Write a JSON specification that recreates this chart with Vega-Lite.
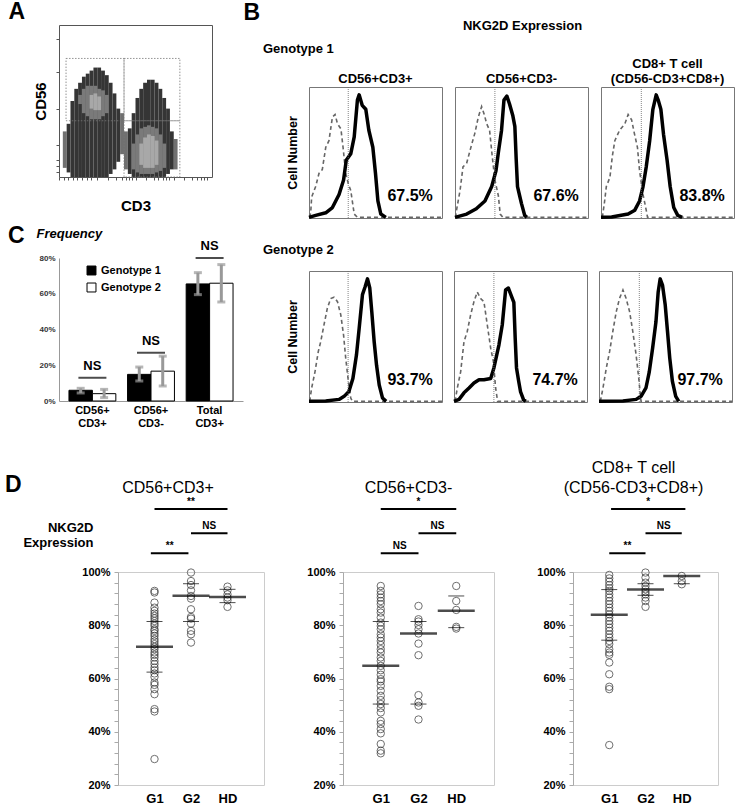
{
"$schema":"https://vega.github.io/schema/vega-lite/v6.json",
"background":"white",
"padding":{"left":5,"top":0,"right":0,"bottom":0},
"config":{"font":"Liberation Sans","view":{"stroke":null},
"title":{"font":"Liberation Sans","fontWeight":"bold","color":"black","anchor":"start"},
"axis":{"labelFont":"Liberation Sans","titleFont":"Liberation Sans","grid":false,"labelColor":"black","titleColor":"black","labelOverlap":false,"labelFlush":false,"labelBound":false},
"header":{"labelFont":"Liberation Sans","titleFont":"Liberation Sans","labelColor":"black"},
"legend":{"labelFont":"Liberation Sans"},
"text":{"font":"Liberation Sans"}},
"datasets":{
"flow":[
{"x":2.5,"x2":5,"y":6,"y2":30,"l":0},{"x":40,"x2":42.5,"y":15,"y2":42,"l":0},{"x":42.5,"x2":45,"y":5,"y2":30,"l":0},{"x":75,"x2":77.5,"y":5,"y2":25,"l":0},
{"x":5,"x2":7.5,"y":3,"y2":35,"l":1},{"x":7.5,"x2":10,"y":0,"y2":50,"l":1},{"x":10,"x2":12.5,"y":0,"y2":58,"l":1},{"x":12.5,"x2":15,"y":0,"y2":62,"l":1},{"x":15,"x2":17.5,"y":0,"y2":66,"l":1},{"x":17.5,"x2":20,"y":0,"y2":68,"l":1},{"x":20,"x2":22.5,"y":0,"y2":70,"l":1},{"x":22.5,"x2":25,"y":0,"y2":72,"l":1},{"x":25,"x2":27.5,"y":0,"y2":72,"l":1},{"x":27.5,"x2":30,"y":0,"y2":70,"l":1},{"x":30,"x2":32.5,"y":0,"y2":67,"l":1},{"x":32.5,"x2":35,"y":2,"y2":62,"l":1},{"x":35,"x2":37.5,"y":5,"y2":55,"l":1},{"x":37.5,"x2":40,"y":10,"y2":45,"l":1},
{"x":45,"x2":47.5,"y":2,"y2":32,"l":1},{"x":47.5,"x2":50,"y":0,"y2":42,"l":1},{"x":50,"x2":52.5,"y":0,"y2":52,"l":1},{"x":52.5,"x2":55,"y":0,"y2":58,"l":1},{"x":55,"x2":57.5,"y":0,"y2":62,"l":1},{"x":57.5,"x2":60,"y":0,"y2":64,"l":1},{"x":60,"x2":62.5,"y":0,"y2":64,"l":1},{"x":62.5,"x2":65,"y":0,"y2":62,"l":1},{"x":65,"x2":67.5,"y":0,"y2":58,"l":1},{"x":67.5,"x2":70,"y":0,"y2":52,"l":1},{"x":70,"x2":72.5,"y":2,"y2":45,"l":1},{"x":72.5,"x2":75,"y":5,"y2":30,"l":1},
{"x":12.5,"x2":15,"y":48,"y2":54,"l":2},{"x":15,"x2":17.5,"y":42,"y2":58,"l":2},{"x":17.5,"x2":20,"y":40,"y2":60,"l":2},{"x":20,"x2":22.5,"y":38,"y2":60,"l":2},{"x":22.5,"x2":25,"y":38,"y2":60,"l":2},{"x":25,"x2":27.5,"y":38,"y2":58,"l":2},{"x":27.5,"x2":30,"y":40,"y2":57,"l":2},{"x":30,"x2":32.5,"y":42,"y2":54,"l":2},
{"x":47.5,"x2":50,"y":5,"y2":22,"l":2},{"x":50,"x2":52.5,"y":3,"y2":28,"l":2},{"x":52.5,"x2":55,"y":2,"y2":32,"l":2},{"x":55,"x2":57.5,"y":2,"y2":33,"l":2},{"x":57.5,"x2":60,"y":2,"y2":34,"l":2},{"x":60,"x2":62.5,"y":2,"y2":33,"l":2},{"x":62.5,"x2":65,"y":3,"y2":32,"l":2},{"x":65,"x2":67.5,"y":4,"y2":28,"l":2},{"x":67.5,"x2":70,"y":6,"y2":22,"l":2},
{"x":20,"x2":22.5,"y":45,"y2":54,"l":3},{"x":22.5,"x2":25,"y":44,"y2":55,"l":3},{"x":25,"x2":27.5,"y":44,"y2":53,"l":3},
{"x":52.5,"x2":55,"y":8,"y2":22,"l":3},{"x":55,"x2":57.5,"y":6,"y2":26,"l":3},{"x":57.5,"x2":60,"y":6,"y2":28,"l":3},{"x":60,"x2":62.5,"y":6,"y2":27,"l":3},{"x":62.5,"x2":65,"y":8,"y2":24,"l":3}
],
"gates":[{"x":4.6,"x2":42.5,"y":37,"y2":78},{"x":42.5,"x2":79,"y":37,"y2":78},{"x":42.5,"x2":79,"y":0,"y2":37}],
"freq":[
{"cat":"CD56+ CD3+","g":"Genotype 1","v":6.0,"lo":4.5,"hi":7.1},
{"cat":"CD56+ CD3+","g":"Genotype 2","v":4.1,"lo":1.9,"hi":6.5},
{"cat":"CD56+ CD3-","g":"Genotype 1","v":14.9,"lo":11.2,"hi":19.0},
{"cat":"CD56+ CD3-","g":"Genotype 2","v":16.7,"lo":8.4,"hi":25.1},
{"cat":"Total CD3+","g":"Genotype 1","v":65.5,"lo":59.5,"hi":71.8},
{"cat":"Total CD3+","g":"Genotype 2","v":65.9,"lo":55.4,"hi":76.3}],
"fsig":[{"cat":"CD56+ CD3+","y":13,"t":"NS"},{"cat":"CD56+ CD3-","y":27,"t":"NS"},{"cat":"Total CD3+","y":80,"t":"NS"}],
"blank":[{"t":""}],
"hist":[
{"g":1,"p":1,"k":"iso","x":0.5,"y":0.5},{"g":1,"p":1,"k":"iso","x":1.3,"y":4.4},{"g":1,"p":1,"k":"iso","x":2,"y":16},{"g":1,"p":1,"k":"iso","x":5,"y":24},{"g":1,"p":1,"k":"iso","x":7.5,"y":34},{"g":1,"p":1,"k":"iso","x":10,"y":37},{"g":1,"p":1,"k":"iso","x":12.6,"y":54},{"g":1,"p":1,"k":"iso","x":15,"y":59},{"g":1,"p":1,"k":"iso","x":17.6,"y":77},{"g":1,"p":1,"k":"iso","x":19.6,"y":79},{"g":1,"p":1,"k":"iso","x":21.4,"y":72},{"g":1,"p":1,"k":"iso","x":24,"y":68},{"g":1,"p":1,"k":"iso","x":25.6,"y":54},{"g":1,"p":1,"k":"iso","x":27.6,"y":34},{"g":1,"p":1,"k":"iso","x":29.6,"y":26},{"g":1,"p":1,"k":"iso","x":31.4,"y":21},{"g":1,"p":1,"k":"iso","x":34,"y":3},{"g":1,"p":1,"k":"iso","x":36.4,"y":0.5},{"g":1,"p":1,"k":"iso","x":100,"y":0.5},
{"g":1,"p":1,"k":"nkg","x":0,"y":0.5},{"g":1,"p":1,"k":"nkg","x":5,"y":2},{"g":1,"p":1,"k":"nkg","x":12.6,"y":4},{"g":1,"p":1,"k":"nkg","x":17.6,"y":8},{"g":1,"p":1,"k":"nkg","x":22.6,"y":18},{"g":1,"p":1,"k":"nkg","x":26,"y":29},{"g":1,"p":1,"k":"nkg","x":28,"y":44},{"g":1,"p":1,"k":"nkg","x":31.4,"y":49},{"g":1,"p":1,"k":"nkg","x":34,"y":62},{"g":1,"p":1,"k":"nkg","x":36.4,"y":90},{"g":1,"p":1,"k":"nkg","x":37.7,"y":94},{"g":1,"p":1,"k":"nkg","x":40,"y":86},{"g":1,"p":1,"k":"nkg","x":42.7,"y":83},{"g":1,"p":1,"k":"nkg","x":45,"y":67},{"g":1,"p":1,"k":"nkg","x":48,"y":54},{"g":1,"p":1,"k":"nkg","x":50,"y":34},{"g":1,"p":1,"k":"nkg","x":51.8,"y":13},{"g":1,"p":1,"k":"nkg","x":54,"y":3},{"g":1,"p":1,"k":"nkg","x":57.8,"y":0.5},
{"g":1,"p":2,"k":"iso","x":0.5,"y":0.5},{"g":1,"p":2,"k":"iso","x":0.8,"y":4},{"g":1,"p":2,"k":"iso","x":3.8,"y":21},{"g":1,"p":2,"k":"iso","x":6,"y":39},{"g":1,"p":2,"k":"iso","x":8.8,"y":42},{"g":1,"p":2,"k":"iso","x":12.5,"y":56},{"g":1,"p":2,"k":"iso","x":15,"y":65},{"g":1,"p":2,"k":"iso","x":17.5,"y":77},{"g":1,"p":2,"k":"iso","x":20,"y":85},{"g":1,"p":2,"k":"iso","x":22,"y":79},{"g":1,"p":2,"k":"iso","x":23.8,"y":72},{"g":1,"p":2,"k":"iso","x":26,"y":67},{"g":1,"p":2,"k":"iso","x":28,"y":47},{"g":1,"p":2,"k":"iso","x":30,"y":29},{"g":1,"p":2,"k":"iso","x":32.6,"y":17},{"g":1,"p":2,"k":"iso","x":34,"y":3},{"g":1,"p":2,"k":"iso","x":36,"y":0.5},{"g":1,"p":2,"k":"iso","x":100,"y":0.5},
{"g":1,"p":2,"k":"nkg","x":0,"y":0.5},{"g":1,"p":2,"k":"nkg","x":8.8,"y":3},{"g":1,"p":2,"k":"nkg","x":16,"y":7},{"g":1,"p":2,"k":"nkg","x":22.5,"y":13},{"g":1,"p":2,"k":"nkg","x":27.6,"y":24},{"g":1,"p":2,"k":"nkg","x":30.8,"y":36},{"g":1,"p":2,"k":"nkg","x":32.6,"y":50},{"g":1,"p":2,"k":"nkg","x":35,"y":67},{"g":1,"p":2,"k":"nkg","x":36.8,"y":90},{"g":1,"p":2,"k":"nkg","x":39,"y":93},{"g":1,"p":2,"k":"nkg","x":41,"y":87},{"g":1,"p":2,"k":"nkg","x":43.5,"y":78},{"g":1,"p":2,"k":"nkg","x":45,"y":70},{"g":1,"p":2,"k":"nkg","x":46,"y":45},{"g":1,"p":2,"k":"nkg","x":47,"y":24},{"g":1,"p":2,"k":"nkg","x":48.6,"y":17},{"g":1,"p":2,"k":"nkg","x":50,"y":11},{"g":1,"p":2,"k":"nkg","x":52.4,"y":2},{"g":1,"p":2,"k":"nkg","x":54,"y":0.5},
{"g":1,"p":3,"k":"iso","x":1,"y":0.5},{"g":1,"p":3,"k":"iso","x":2.5,"y":11},{"g":1,"p":3,"k":"iso","x":4,"y":24},{"g":1,"p":3,"k":"iso","x":6.7,"y":31},{"g":1,"p":3,"k":"iso","x":8.5,"y":47},{"g":1,"p":3,"k":"iso","x":10.4,"y":59},{"g":1,"p":3,"k":"iso","x":14,"y":67},{"g":1,"p":3,"k":"iso","x":18,"y":72},{"g":1,"p":3,"k":"iso","x":20.4,"y":79},{"g":1,"p":3,"k":"iso","x":23,"y":75},{"g":1,"p":3,"k":"iso","x":25,"y":65},{"g":1,"p":3,"k":"iso","x":27.4,"y":54},{"g":1,"p":3,"k":"iso","x":29,"y":36},{"g":1,"p":3,"k":"iso","x":31.6,"y":18},{"g":1,"p":3,"k":"iso","x":34,"y":6},{"g":1,"p":3,"k":"iso","x":35,"y":0.5},{"g":1,"p":3,"k":"iso","x":100,"y":0.5},
{"g":1,"p":3,"k":"nkg","x":0,"y":0.5},{"g":1,"p":3,"k":"nkg","x":8,"y":0.8},{"g":1,"p":3,"k":"nkg","x":20.4,"y":3},{"g":1,"p":3,"k":"nkg","x":25.4,"y":6},{"g":1,"p":3,"k":"nkg","x":29,"y":13},{"g":1,"p":3,"k":"nkg","x":31.6,"y":24},{"g":1,"p":3,"k":"nkg","x":34,"y":39},{"g":1,"p":3,"k":"nkg","x":36.6,"y":59},{"g":1,"p":3,"k":"nkg","x":39,"y":83},{"g":1,"p":3,"k":"nkg","x":41.5,"y":94},{"g":1,"p":3,"k":"nkg","x":43,"y":90},{"g":1,"p":3,"k":"nkg","x":45,"y":83},{"g":1,"p":3,"k":"nkg","x":47,"y":64},{"g":1,"p":3,"k":"nkg","x":49.7,"y":44},{"g":1,"p":3,"k":"nkg","x":52,"y":24},{"g":1,"p":3,"k":"nkg","x":54.7,"y":8},{"g":1,"p":3,"k":"nkg","x":57.7,"y":2},{"g":1,"p":3,"k":"nkg","x":61,"y":0.5},
{"g":2,"p":1,"k":"iso","x":0.5,"y":0.5},{"g":2,"p":1,"k":"iso","x":2,"y":10.7},{"g":2,"p":1,"k":"iso","x":4.5,"y":23},{"g":2,"p":1,"k":"iso","x":7,"y":38.6},{"g":2,"p":1,"k":"iso","x":8.8,"y":46},{"g":2,"p":1,"k":"iso","x":11.3,"y":59},{"g":2,"p":1,"k":"iso","x":13.8,"y":71.6},{"g":2,"p":1,"k":"iso","x":16.3,"y":79},{"g":2,"p":1,"k":"iso","x":18.8,"y":80},{"g":2,"p":1,"k":"iso","x":21.4,"y":76.6},{"g":2,"p":1,"k":"iso","x":23.9,"y":66.5},{"g":2,"p":1,"k":"iso","x":26,"y":51},{"g":2,"p":1,"k":"iso","x":27.6,"y":33.5},{"g":2,"p":1,"k":"iso","x":29.6,"y":15.7},{"g":2,"p":1,"k":"iso","x":31.4,"y":3},{"g":2,"p":1,"k":"iso","x":32.7,"y":0.5},{"g":2,"p":1,"k":"iso","x":100,"y":0.5},
{"g":2,"p":1,"k":"nkg","x":0,"y":0.5},{"g":2,"p":1,"k":"nkg","x":12.6,"y":0.8},{"g":2,"p":1,"k":"nkg","x":22.6,"y":2},{"g":2,"p":1,"k":"nkg","x":26.4,"y":4.3},{"g":2,"p":1,"k":"nkg","x":30,"y":8},{"g":2,"p":1,"k":"nkg","x":33,"y":18},{"g":2,"p":1,"k":"nkg","x":35.7,"y":36},{"g":2,"p":1,"k":"nkg","x":37.7,"y":56},{"g":2,"p":1,"k":"nkg","x":40.2,"y":82},{"g":2,"p":1,"k":"nkg","x":42.2,"y":88},{"g":2,"p":1,"k":"nkg","x":44,"y":94},{"g":2,"p":1,"k":"nkg","x":45.7,"y":87},{"g":2,"p":1,"k":"nkg","x":47.2,"y":69},{"g":2,"p":1,"k":"nkg","x":49,"y":46},{"g":2,"p":1,"k":"nkg","x":50.8,"y":28},{"g":2,"p":1,"k":"nkg","x":52.8,"y":13},{"g":2,"p":1,"k":"nkg","x":55.3,"y":3},{"g":2,"p":1,"k":"nkg","x":58,"y":0.5},
{"g":2,"p":2,"k":"iso","x":0.8,"y":0.5},{"g":2,"p":2,"k":"iso","x":2.5,"y":10.7},{"g":2,"p":2,"k":"iso","x":5,"y":23},{"g":2,"p":2,"k":"iso","x":7.5,"y":46},{"g":2,"p":2,"k":"iso","x":10,"y":54},{"g":2,"p":2,"k":"iso","x":12.5,"y":66.5},{"g":2,"p":2,"k":"iso","x":15,"y":76.6},{"g":2,"p":2,"k":"iso","x":17.5,"y":84},{"g":2,"p":2,"k":"iso","x":20,"y":79},{"g":2,"p":2,"k":"iso","x":22.5,"y":76.6},{"g":2,"p":2,"k":"iso","x":25,"y":59},{"g":2,"p":2,"k":"iso","x":27.6,"y":41},{"g":2,"p":2,"k":"iso","x":29.6,"y":31},{"g":2,"p":2,"k":"iso","x":31.3,"y":10.7},{"g":2,"p":2,"k":"iso","x":32.8,"y":0.5},{"g":2,"p":2,"k":"iso","x":100,"y":0.5},
{"g":2,"p":2,"k":"nkg","x":0,"y":0.5},{"g":2,"p":2,"k":"nkg","x":3.8,"y":2},{"g":2,"p":2,"k":"nkg","x":7.5,"y":7},{"g":2,"p":2,"k":"nkg","x":11.3,"y":10.7},{"g":2,"p":2,"k":"nkg","x":15,"y":14.5},{"g":2,"p":2,"k":"nkg","x":18.8,"y":17},{"g":2,"p":2,"k":"nkg","x":22.5,"y":17},{"g":2,"p":2,"k":"nkg","x":27.6,"y":18},{"g":2,"p":2,"k":"nkg","x":30,"y":26},{"g":2,"p":2,"k":"nkg","x":33.8,"y":43.7},{"g":2,"p":2,"k":"nkg","x":36.3,"y":59},{"g":2,"p":2,"k":"nkg","x":38.8,"y":85.5},{"g":2,"p":2,"k":"nkg","x":40.9,"y":87},{"g":2,"p":2,"k":"nkg","x":43.9,"y":79},{"g":2,"p":2,"k":"nkg","x":45,"y":76},{"g":2,"p":2,"k":"nkg","x":46,"y":49},{"g":2,"p":2,"k":"nkg","x":47,"y":26},{"g":2,"p":2,"k":"nkg","x":48.6,"y":16},{"g":2,"p":2,"k":"nkg","x":50,"y":8},{"g":2,"p":2,"k":"nkg","x":52.4,"y":1.5},{"g":2,"p":2,"k":"nkg","x":54,"y":0.5},
{"g":2,"p":3,"k":"iso","x":1,"y":0.5},{"g":2,"p":3,"k":"iso","x":3,"y":10.7},{"g":2,"p":3,"k":"iso","x":5.5,"y":26},{"g":2,"p":3,"k":"iso","x":8,"y":38.6},{"g":2,"p":3,"k":"iso","x":10.4,"y":54},{"g":2,"p":3,"k":"iso","x":13,"y":69},{"g":2,"p":3,"k":"iso","x":15.4,"y":79},{"g":2,"p":3,"k":"iso","x":18,"y":85.5},{"g":2,"p":3,"k":"iso","x":20.4,"y":79},{"g":2,"p":3,"k":"iso","x":23,"y":69},{"g":2,"p":3,"k":"iso","x":25.4,"y":54},{"g":2,"p":3,"k":"iso","x":27.9,"y":36},{"g":2,"p":3,"k":"iso","x":29.9,"y":18},{"g":2,"p":3,"k":"iso","x":31.6,"y":0.5},{"g":2,"p":3,"k":"iso","x":100,"y":0.5},
{"g":2,"p":3,"k":"nkg","x":0,"y":0.5},{"g":2,"p":3,"k":"nkg","x":18,"y":0.8},{"g":2,"p":3,"k":"nkg","x":27.9,"y":2},{"g":2,"p":3,"k":"nkg","x":31.6,"y":4.3},{"g":2,"p":3,"k":"nkg","x":35.3,"y":10.7},{"g":2,"p":3,"k":"nkg","x":37.8,"y":23},{"g":2,"p":3,"k":"nkg","x":40.3,"y":41},{"g":2,"p":3,"k":"nkg","x":42.8,"y":61},{"g":2,"p":3,"k":"nkg","x":44.5,"y":84},{"g":2,"p":3,"k":"nkg","x":46,"y":94},{"g":2,"p":3,"k":"nkg","x":47.8,"y":89},{"g":2,"p":3,"k":"nkg","x":49.8,"y":74},{"g":2,"p":3,"k":"nkg","x":51.5,"y":54},{"g":2,"p":3,"k":"nkg","x":53.2,"y":33.5},{"g":2,"p":3,"k":"nkg","x":55.2,"y":15.7},{"g":2,"p":3,"k":"nkg","x":57.7,"y":4.3},{"g":2,"p":3,"k":"nkg","x":60,"y":0.5},
{"g":1,"p":1,"k":"lab","x":29.5,"pct":"67.5%"},{"g":1,"p":2,"k":"lab","x":30,"pct":"67.6%"},{"g":1,"p":3,"k":"lab","x":30.3,"pct":"83.8%"},
{"g":2,"p":1,"k":"lab","x":29.4,"pct":"93.7%"},{"g":2,"p":2,"k":"lab","x":30,"pct":"74.7%"},{"g":2,"p":3,"k":"lab","x":30.3,"pct":"97.7%"}
],
"dots":[
{"d":1,"g":1,"v":92.9},{"d":1,"g":1,"v":92.3},{"d":1,"g":1,"v":88.5},{"d":1,"g":1,"v":86.6},{"d":1,"g":1,"v":85.4},{"d":1,"g":1,"v":84.4},{"d":1,"g":1,"v":83.5},{"d":1,"g":1,"v":82.6},{"d":1,"g":1,"v":81.6},{"d":1,"g":1,"v":80.6},{"d":1,"g":1,"v":79.8},{"d":1,"g":1,"v":78.5},{"d":1,"g":1,"v":77.9},{"d":1,"g":1,"v":76.9},{"d":1,"g":1,"v":76},{"d":1,"g":1,"v":74.8},{"d":1,"g":1,"v":73.9},{"d":1,"g":1,"v":72.9},{"d":1,"g":1,"v":71.9},{"d":1,"g":1,"v":71},{"d":1,"g":1,"v":69.8},{"d":1,"g":1,"v":68.9},{"d":1,"g":1,"v":67.9},{"d":1,"g":1,"v":66.6},{"d":1,"g":1,"v":65.4},{"d":1,"g":1,"v":64.1},{"d":1,"g":1,"v":63.1},{"d":1,"g":1,"v":61.9},{"d":1,"g":1,"v":60.6},{"d":1,"g":1,"v":58.5},{"d":1,"g":1,"v":57.6},{"d":1,"g":1,"v":56},{"d":1,"g":1,"v":54.1},{"d":1,"g":1,"v":48.5},{"d":1,"g":1,"v":47.6},{"d":1,"g":1,"v":29.75},
{"d":1,"g":2,"v":99.8},{"d":1,"g":2,"v":96.6},{"d":1,"g":2,"v":95.1},{"d":1,"g":2,"v":93.1},{"d":1,"g":2,"v":91},{"d":1,"g":2,"v":90},{"d":1,"g":2,"v":86},{"d":1,"g":2,"v":83.1},{"d":1,"g":2,"v":82.5},{"d":1,"g":2,"v":80.6},{"d":1,"g":2,"v":77.9},{"d":1,"g":2,"v":76.6},{"d":1,"g":2,"v":73.5},
{"d":1,"g":3,"v":94.5},{"d":1,"g":3,"v":93.1},{"d":1,"g":3,"v":91.6},{"d":1,"g":3,"v":90.4},{"d":1,"g":3,"v":89.4},{"d":1,"g":3,"v":86.9},
{"d":2,"g":1,"v":94.75},{"d":2,"g":1,"v":92.9},{"d":2,"g":1,"v":91.6},{"d":2,"g":1,"v":90.4},{"d":2,"g":1,"v":89.1},{"d":2,"g":1,"v":87.9},{"d":2,"g":1,"v":86},{"d":2,"g":1,"v":84.75},{"d":2,"g":1,"v":82.9},{"d":2,"g":1,"v":81},{"d":2,"g":1,"v":79.75},{"d":2,"g":1,"v":78.5},{"d":2,"g":1,"v":76.6},{"d":2,"g":1,"v":75.4},{"d":2,"g":1,"v":74.1},{"d":2,"g":1,"v":72.6},{"d":2,"g":1,"v":71},{"d":2,"g":1,"v":69.75},{"d":2,"g":1,"v":67.9},{"d":2,"g":1,"v":66.6},{"d":2,"g":1,"v":64.75},{"d":2,"g":1,"v":63.1},{"d":2,"g":1,"v":61.4},{"d":2,"g":1,"v":59.75},{"d":2,"g":1,"v":58.9},{"d":2,"g":1,"v":57.25},{"d":2,"g":1,"v":55.4},{"d":2,"g":1,"v":53.5},{"d":2,"g":1,"v":51.9},{"d":2,"g":1,"v":50.4},{"d":2,"g":1,"v":48.9},{"d":2,"g":1,"v":47.25},{"d":2,"g":1,"v":44.1},{"d":2,"g":1,"v":42.9},{"d":2,"g":1,"v":41},{"d":2,"g":1,"v":39.4},{"d":2,"g":1,"v":35.4},{"d":2,"g":1,"v":32.9},{"d":2,"g":1,"v":31.9},
{"d":2,"g":2,"v":87.25},{"d":2,"g":2,"v":82.25},{"d":2,"g":2,"v":81.4},{"d":2,"g":2,"v":80.1},{"d":2,"g":2,"v":78.5},{"d":2,"g":2,"v":76.9},{"d":2,"g":2,"v":73.1},{"d":2,"g":2,"v":68.75},{"d":2,"g":2,"v":53.75},{"d":2,"g":2,"v":51},{"d":2,"g":2,"v":49.75},{"d":2,"g":2,"v":44.6},
{"d":2,"g":3,"v":94.75},{"d":2,"g":3,"v":89.1},{"d":2,"g":3,"v":85.75},{"d":2,"g":3,"v":79.4},{"d":2,"g":3,"v":78.75},
{"d":3,"g":1,"v":98.9},{"d":3,"g":1,"v":97.6},{"d":3,"g":1,"v":96.4},{"d":3,"g":1,"v":95.1},{"d":3,"g":1,"v":93.9},{"d":3,"g":1,"v":92.9},{"d":3,"g":1,"v":91.6},{"d":3,"g":1,"v":90.4},{"d":3,"g":1,"v":89.1},{"d":3,"g":1,"v":87.9},{"d":3,"g":1,"v":86.6},{"d":3,"g":1,"v":85.4},{"d":3,"g":1,"v":84.1},{"d":3,"g":1,"v":82.9},{"d":3,"g":1,"v":81.6},{"d":3,"g":1,"v":80.4},{"d":3,"g":1,"v":79.1},{"d":3,"g":1,"v":77.9},{"d":3,"g":1,"v":76.6},{"d":3,"g":1,"v":75.4},{"d":3,"g":1,"v":74.1},{"d":3,"g":1,"v":72.9},{"d":3,"g":1,"v":71},{"d":3,"g":1,"v":69.75},{"d":3,"g":1,"v":68.9},{"d":3,"g":1,"v":66},{"d":3,"g":1,"v":61.6},{"d":3,"g":1,"v":56.9},{"d":3,"g":1,"v":56},{"d":3,"g":1,"v":35},
{"d":3,"g":2,"v":99.8},{"d":3,"g":2,"v":97.9},{"d":3,"g":2,"v":96},{"d":3,"g":2,"v":94.75},{"d":3,"g":2,"v":93.5},{"d":3,"g":2,"v":92.5},{"d":3,"g":2,"v":91.6},{"d":3,"g":2,"v":90.4},{"d":3,"g":2,"v":89.1},{"d":3,"g":2,"v":86.9},
{"d":3,"g":3,"v":98.5},{"d":3,"g":3,"v":96.6},{"d":3,"g":3,"v":95.4}
],
"means":[{"d":1,"g":1,"v":71.9},{"d":1,"g":2,"v":91.1},{"d":1,"g":3,"v":90.6},{"d":2,"g":1,"v":64.75},{"d":2,"g":2,"v":76.9},{"d":2,"g":3,"v":85.4},{"d":3,"g":1,"v":83.9},{"d":3,"g":2,"v":93.4},{"d":3,"g":3,"v":98.5}],
"sds":[{"d":1,"g":1,"v":62.4},{"d":1,"g":1,"v":81.4},{"d":1,"g":2,"v":81.4},{"d":1,"g":2,"v":95.6},{"d":1,"g":3,"v":88.5},{"d":1,"g":3,"v":93.5},{"d":2,"g":1,"v":50.4},{"d":2,"g":1,"v":81.4},{"d":2,"g":2,"v":50.4},{"d":2,"g":2,"v":81.4},{"d":2,"g":3,"v":79.1},{"d":2,"g":3,"v":91},{"d":3,"g":1,"v":74.4},{"d":3,"g":1,"v":93.4},{"d":3,"g":2,"v":91.25},{"d":3,"g":2,"v":95.6},{"d":3,"g":3,"v":95.6}],
"dsig":[{"d":1,"a":1,"b":3,"y":123.7,"t":"**"},{"d":1,"a":2,"b":3,"y":114.6,"t":"NS"},{"d":1,"a":0.9,"b":1.93,"y":107,"t":"**"},{"d":2,"a":1,"b":3,"y":123.7,"t":"*"},{"d":2,"a":2,"b":3,"y":114.6,"t":"NS"},{"d":2,"a":1,"b":2,"y":107,"t":"NS"},{"d":3,"a":1.05,"b":3.1,"y":123.7,"t":"*"},{"d":3,"a":2,"b":3,"y":114.6,"t":"NS"},{"d":3,"a":1,"b":2,"y":107,"t":"**"}]
},
"vconcat":[
{"spacing":2,"hconcat":[
 {"width":1,"height":1,"data":{"name":"blank"},"mark":"text","encoding":{"text":{"field":"t"}}},
 {"spacing":0,"hconcat":[
 {"spacing":11,"vconcat":[
  {"width":153,"height":152,"view":{"stroke":"#555"},
   "title":{"text":"A","fontSize":23,"dx":-25,"offset":1},
   "encoding":{
    "x":{"field":"x","type":"quantitative","scale":{"domain":[0,100],"nice":false},"axis":{"title":"CD3","labels":false,"domain":false,"tickColor":"#555","tickSize":3,"tickCount":100,"values":[0,3,6,9,12,15,18,21,25,32,37,41,44,46,48,50,57,62,65,68,70,72,75,82,87,90,93,95,97],"titleFontSize":15,"titleFontWeight":"bold","titlePadding":18}},
    "y":{"field":"y","type":"quantitative","scale":{"domain":[0,100],"nice":false},"axis":{"title":"CD56","labels":false,"domain":false,"tickColor":"#555","tickSize":3,"tickCount":100,"values":[3,7,11,21,45,69,91],"titleFontSize":15,"titleFontWeight":"bold","titlePadding":7}}},
   "layer":[
    {"data":{"name":"flow"},"mark":{"type":"rect"},"encoding":{"x2":{"field":"x2"},"y2":{"field":"y2"},"color":{"field":"l","type":"ordinal","scale":{"domain":[0,1,2,3],"range":["#707070","#353535","#7a7a7a","#a8a8a8"]},"legend":null}}},
    {"data":{"name":"gates"},"mark":{"type":"rect","fillOpacity":0,"stroke":"#777","strokeDash":[1.5,1.5],"strokeWidth":0.8},"encoding":{"x2":{"field":"x2"},"y2":{"field":"y2"}}}
   ]},
  {"width":184,"height":143,
   "title":{"text":"C","fontSize":23,"dx":-28,"dy":21,"offset":0},
   "encoding":{"x":{"field":"cat","type":"nominal","sort":["CD56+ CD3+","CD56+ CD3-","Total CD3+"],"scale":{"paddingInner":0.2,"paddingOuter":0.17},"axis":{"title":null,"labelAngle":0,"labelExpr":"split(datum.label,' ')","labelFontSize":11,"labelFontWeight":"bold","ticks":false,"domainColor":"#999","labelPadding":3,"labelLineHeight":13}}},
   "layer":[
    {"data":{"name":"freq"},"mark":{"type":"bar","stroke":"black","strokeWidth":1},"encoding":{"xOffset":{"field":"g","type":"nominal"},"y":{"field":"v","type":"quantitative","scale":{"domain":[0,80],"nice":false},"axis":{"values":[0,20,40,60,80],"tickCount":100,"labelOverlap":false,"labelExpr":"datum.value + '%'","labelFontSize":8,"labelFontWeight":"bold","labelColor":"#333","ticks":false,"domainColor":"#999","labelPadding":4,"title":"Frequency","titleAngle":0,"titleAlign":"left","titleBaseline":"middle","titleX":-23,"titleY":-25,"titleFontSize":13,"titleFontStyle":"italic","titleFontWeight":"bold"}},"fill":{"field":"g","type":"nominal","scale":{"range":["black","white"]},"legend":{"title":null,"orient":"none","legendX":81,"legendY":240,"symbolType":"square","symbolSize":80,"symbolStrokeColor":"black","symbolStrokeWidth":1,"labelFontSize":11,"labelFontWeight":"bold","rowPadding":4}}}},
    {"data":{"name":"freq"},"mark":{"type":"rule","color":"#999","strokeWidth":3},"encoding":{"xOffset":{"field":"g","type":"nominal"},"y":{"field":"lo","type":"quantitative"},"y2":{"field":"hi"}}},
    {"data":{"name":"freq"},"mark":{"type":"tick","color":"#999","thickness":3,"size":8,"orient":"horizontal"},"encoding":{"xOffset":{"field":"g","type":"nominal"},"y":{"field":"lo","type":"quantitative"}}},
    {"data":{"name":"freq"},"mark":{"type":"tick","color":"#999","thickness":3,"size":8,"orient":"horizontal"},"encoding":{"xOffset":{"field":"g","type":"nominal"},"y":{"field":"hi","type":"quantitative"}}},
    {"data":{"name":"fsig"},"mark":{"type":"tick","color":"black","thickness":2,"size":28,"orient":"horizontal"},"encoding":{"y":{"field":"y","type":"quantitative"}}},
    {"data":{"name":"fsig"},"mark":{"type":"text","fontSize":13,"fontWeight":"bold","dy":-12},"encoding":{"y":{"field":"y","type":"quantitative"},"text":{"field":"t"}}}
   ]}
 ]},
 {"spacing":11,"vconcat":[
   {"width":426,"height":1,"data":{"name":"blank"},
    "mark":"text",
    "encoding":{"text":{"field":"t"},
     "x":{"datum":0,"type":"quantitative","axis":{"orient":"top","title":"NKG2D Expression","labels":false,"ticks":false,"domain":false,"grid":false,"titleY":7,"titleBaseline":"bottom","titleFontSize":13,"titleFontWeight":"bold"}},
     "y":{"datum":0,"type":"quantitative","axis":{"title":"B","labels":false,"ticks":false,"domain":false,"grid":false,"titleAngle":0,"titleAlign":"left","titleBaseline":"alphabetic","titleX":-66,"titleY":-6,"titleFontSize":23,"titleFontWeight":"bold"}}}},
   {"spacing":22,"vconcat":[
    {"data":{"name":"hist"},"transform":[{"filter":"datum.g == 1"}],
     "title":{"text":"Genotype 1","fontSize":13,"dx":-23,"offset":2},
     "facet":{"column":{"field":"p","type":"ordinal","header":{"title":null,"labelExpr":"datum.value == 1 ? 'CD56+CD3+' : datum.value == 2 ? 'CD56+CD3-' : ['CD8+ T cell','(CD56-CD3+CD8+)']","labelFontSize":13,"labelFontWeight":"bold","labelBaseline":"bottom","labelPadding":-13,"labelLineHeight":15}}},
     "spacing":{"column":5},
     "spec":{"width":133,"height":131,"view":{"stroke":"#777"},
      "layer":[
       {"transform":[{"filter":"datum.k == 'iso'"}],"mark":{"type":"line","color":"#666","strokeWidth":1.6,"strokeDash":[4,3]},"encoding":{"x":{"field":"x","type":"quantitative","scale":{"domain":[0,100],"nice":false},"axis":null},"y":{"field":"y","type":"quantitative","scale":{"domain":[0,100],"nice":false},"axis":{"title":"Cell Number","labels":false,"ticks":false,"domain":false,"titleFontSize":12.5,"titleFontWeight":"bold","titlePadding":6}}}},
       {"transform":[{"filter":"datum.k == 'nkg'"}],"mark":{"type":"line","color":"black","strokeWidth":3.5,"strokeJoin":"round"},"encoding":{"x":{"field":"x","type":"quantitative"},"y":{"field":"y","type":"quantitative"}}},
       {"transform":[{"filter":"datum.k == 'lab'"}],"mark":{"type":"rule","color":"#666","strokeWidth":0.8,"strokeDash":[1,1]},"encoding":{"x":{"field":"x","type":"quantitative"}}},
       {"transform":[{"filter":"datum.k == 'lab'"}],"mark":{"type":"text","fontSize":16,"fontWeight":"bold"},"encoding":{"x":{"datum":76},"y":{"datum":17},"text":{"field":"pct"}}}
      ]}},
    {"data":{"name":"hist"},"transform":[{"filter":"datum.g == 2"}],
     "title":{"text":"Genotype 2","fontSize":13,"dx":-23,"offset":13},
     "facet":{"column":{"field":"p","type":"ordinal","header":{"title":null,"labels":false}}},
     "spacing":{"column":5},
     "spec":{"width":133,"height":131,"view":{"stroke":"#777"},
      "layer":[
       {"transform":[{"filter":"datum.k == 'iso'"}],"mark":{"type":"line","color":"#666","strokeWidth":1.6,"strokeDash":[4,3]},"encoding":{"x":{"field":"x","type":"quantitative","scale":{"domain":[0,100],"nice":false},"axis":null},"y":{"field":"y","type":"quantitative","scale":{"domain":[0,100],"nice":false},"axis":{"title":"Cell Number","labels":false,"ticks":false,"domain":false,"titleFontSize":12.5,"titleFontWeight":"bold","titlePadding":6}}}},
       {"transform":[{"filter":"datum.k == 'nkg'"}],"mark":{"type":"line","color":"black","strokeWidth":3.5,"strokeJoin":"round"},"encoding":{"x":{"field":"x","type":"quantitative"},"y":{"field":"y","type":"quantitative"}}},
       {"transform":[{"filter":"datum.k == 'lab'"}],"mark":{"type":"rule","color":"#666","strokeWidth":0.8,"strokeDash":[1,1]},"encoding":{"x":{"field":"x","type":"quantitative"}}},
       {"transform":[{"filter":"datum.k == 'lab'"}],"mark":{"type":"text","fontSize":16,"fontWeight":"bold"},"encoding":{"x":{"datum":76},"y":{"datum":17},"text":{"field":"pct"}}}
      ]}}
   ]}
 ]}
 ]}
]},
{"spacing":0,"hconcat":[
 {"width":1,"height":1,"data":{"name":"blank"},"title":{"text":"D","fontSize":23,"offset":70},"mark":"text","encoding":{"text":{"field":"t"}}},
 {"spacing":41,"hconcat":[
  {"width":146,"height":213,"view":{"stroke":"#ccc"},
   "title":{"text":"CD56+CD3+","anchor":"middle","fontSize":16,"fontWeight":"normal","dx":-23,"offset":1},
   "layer":[
    {"data":{"name":"dots"},"transform":[{"filter":"datum.d == 1"}],"mark":{"type":"point","shape":"circle","filled":false,"stroke":"#333","strokeWidth":1,"size":55},"encoding":{"x":{"field":"g","type":"quantitative","scale":{"domain":[0,4],"nice":false},"axis":{"title":null,"values":[1,2,3],"tickCount":100,"labelExpr":"datum.value == 1 ? 'G1' : datum.value == 2 ? 'G2' : 'HD'","labelFontSize":13,"labelFontWeight":"bold","ticks":false,"domain":false,"labelPadding":7}},"y":{"field":"v","type":"quantitative","scale":{"domain":[20,100],"nice":false,"zero":false},"axis":{"values":[20,24,28,32,36,40,44,48,52,56,60,64,68,72,76,80,84,88,92,96,100],"tickCount":100,"labelOverlap":false,"labelExpr":"datum.value % 20 == 0 ? datum.value + '%' : ''","labelFontSize":11,"labelFontWeight":"bold","tickSize":4,"tickColor":"#aaa","domainColor":"#aaa","labelPadding":4,"title":["NKG2D","Expression"],"titleAngle":0,"titleAlign":"right","titleBaseline":"bottom","titleX":-25,"titleY":-38,"titleFontSize":13,"titleFontWeight":"bold","titleLineHeight":15}}}},
    {"data":{"name":"means"},"transform":[{"filter":"datum.d == 1"}],"mark":{"type":"tick","orient":"horizontal","color":"black","thickness":2.5,"size":37},"encoding":{"x":{"field":"g","type":"quantitative","title":null},"y":{"field":"v","type":"quantitative"}}},
    {"data":{"name":"sds"},"transform":[{"filter":"datum.d == 1"}],"mark":{"type":"tick","orient":"horizontal","color":"black","thickness":1,"size":16},"encoding":{"x":{"field":"g","type":"quantitative","title":null},"y":{"field":"v","type":"quantitative"}}},
    {"data":{"name":"dsig"},"transform":[{"filter":"datum.d == 1"}],"mark":{"type":"rule","color":"black","strokeWidth":2},"encoding":{"x":{"field":"a","type":"quantitative","title":null},"x2":{"field":"b"},"y":{"field":"y","type":"quantitative"}}},
    {"data":{"name":"dsig"},"transform":[{"filter":"datum.d == 1"},{"calculate":"(datum.a+datum.b)/2","as":"m"}],"mark":{"type":"text","fontSize":10,"fontWeight":"bold","dy":-7},"encoding":{"x":{"field":"m","type":"quantitative","title":null},"y":{"field":"y","type":"quantitative"},"text":{"field":"t"}}}
   ]},
  {"width":151,"height":213,"view":{"stroke":"#ccc"},
   "title":{"text":"CD56+CD3-","anchor":"middle","fontSize":16,"fontWeight":"normal","dx":-10,"offset":1},
   "layer":[
    {"data":{"name":"dots"},"transform":[{"filter":"datum.d == 2"}],"mark":{"type":"point","shape":"circle","filled":false,"stroke":"#333","strokeWidth":1,"size":55},"encoding":{"x":{"field":"g","type":"quantitative","scale":{"domain":[0,4],"nice":false},"axis":{"title":null,"values":[1,2,3],"tickCount":100,"labelExpr":"datum.value == 1 ? 'G1' : datum.value == 2 ? 'G2' : 'HD'","labelFontSize":13,"labelFontWeight":"bold","ticks":false,"domain":false,"labelPadding":7}},"y":{"field":"v","type":"quantitative","scale":{"domain":[20,100],"nice":false,"zero":false},"axis":{"values":[20,24,28,32,36,40,44,48,52,56,60,64,68,72,76,80,84,88,92,96,100],"tickCount":100,"labelOverlap":false,"labelExpr":"datum.value % 20 == 0 ? datum.value + '%' : ''","labelFontSize":11,"labelFontWeight":"bold","tickSize":4,"tickColor":"#aaa","domainColor":"#aaa","labelPadding":4,"title":null}}}},
    {"data":{"name":"means"},"transform":[{"filter":"datum.d == 2"}],"mark":{"type":"tick","orient":"horizontal","color":"black","thickness":2.5,"size":37},"encoding":{"x":{"field":"g","type":"quantitative","title":null},"y":{"field":"v","type":"quantitative","title":null}}},
    {"data":{"name":"sds"},"transform":[{"filter":"datum.d == 2"}],"mark":{"type":"tick","orient":"horizontal","color":"black","thickness":1,"size":16},"encoding":{"x":{"field":"g","type":"quantitative","title":null},"y":{"field":"v","type":"quantitative","title":null}}},
    {"data":{"name":"dsig"},"transform":[{"filter":"datum.d == 2"}],"mark":{"type":"rule","color":"black","strokeWidth":2},"encoding":{"x":{"field":"a","type":"quantitative","title":null},"x2":{"field":"b"},"y":{"field":"y","type":"quantitative","title":null}}},
    {"data":{"name":"dsig"},"transform":[{"filter":"datum.d == 2"},{"calculate":"(datum.a+datum.b)/2","as":"m"}],"mark":{"type":"text","fontSize":10,"fontWeight":"bold","dy":-7},"encoding":{"x":{"field":"m","type":"quantitative","title":null},"y":{"field":"y","type":"quantitative","title":null},"text":{"field":"t"}}}
   ]},
  {"width":145,"height":213,"view":{"stroke":"#ccc"},
   "title":{"text":["CD8+ T cell","(CD56-CD3+CD8+)"],"anchor":"middle","fontSize":16,"fontWeight":"normal","dx":-12,"offset":1,"lineHeight":20},
   "layer":[
    {"data":{"name":"dots"},"transform":[{"filter":"datum.d == 3"}],"mark":{"type":"point","shape":"circle","filled":false,"stroke":"#333","strokeWidth":1,"size":55},"encoding":{"x":{"field":"g","type":"quantitative","scale":{"domain":[0,4],"nice":false},"axis":{"title":null,"values":[1,2,3],"tickCount":100,"labelExpr":"datum.value == 1 ? 'G1' : datum.value == 2 ? 'G2' : 'HD'","labelFontSize":13,"labelFontWeight":"bold","ticks":false,"domain":false,"labelPadding":7}},"y":{"field":"v","type":"quantitative","scale":{"domain":[20,100],"nice":false,"zero":false},"axis":{"values":[20,24,28,32,36,40,44,48,52,56,60,64,68,72,76,80,84,88,92,96,100],"tickCount":100,"labelOverlap":false,"labelExpr":"datum.value % 20 == 0 ? datum.value + '%' : ''","labelFontSize":11,"labelFontWeight":"bold","tickSize":4,"tickColor":"#aaa","domainColor":"#aaa","labelPadding":4,"title":null}}}},
    {"data":{"name":"means"},"transform":[{"filter":"datum.d == 3"}],"mark":{"type":"tick","orient":"horizontal","color":"black","thickness":2.5,"size":37},"encoding":{"x":{"field":"g","type":"quantitative","title":null},"y":{"field":"v","type":"quantitative","title":null}}},
    {"data":{"name":"sds"},"transform":[{"filter":"datum.d == 3"}],"mark":{"type":"tick","orient":"horizontal","color":"black","thickness":1,"size":16},"encoding":{"x":{"field":"g","type":"quantitative","title":null},"y":{"field":"v","type":"quantitative","title":null}}},
    {"data":{"name":"dsig"},"transform":[{"filter":"datum.d == 3"}],"mark":{"type":"rule","color":"black","strokeWidth":2},"encoding":{"x":{"field":"a","type":"quantitative","title":null},"x2":{"field":"b"},"y":{"field":"y","type":"quantitative","title":null}}},
    {"data":{"name":"dsig"},"transform":[{"filter":"datum.d == 3"},{"calculate":"(datum.a+datum.b)/2","as":"m"}],"mark":{"type":"text","fontSize":10,"fontWeight":"bold","dy":-7},"encoding":{"x":{"field":"m","type":"quantitative","title":null},"y":{"field":"y","type":"quantitative","title":null},"text":{"field":"t"}}}
   ]}
 ]}
]}
],
"spacing":31
}
